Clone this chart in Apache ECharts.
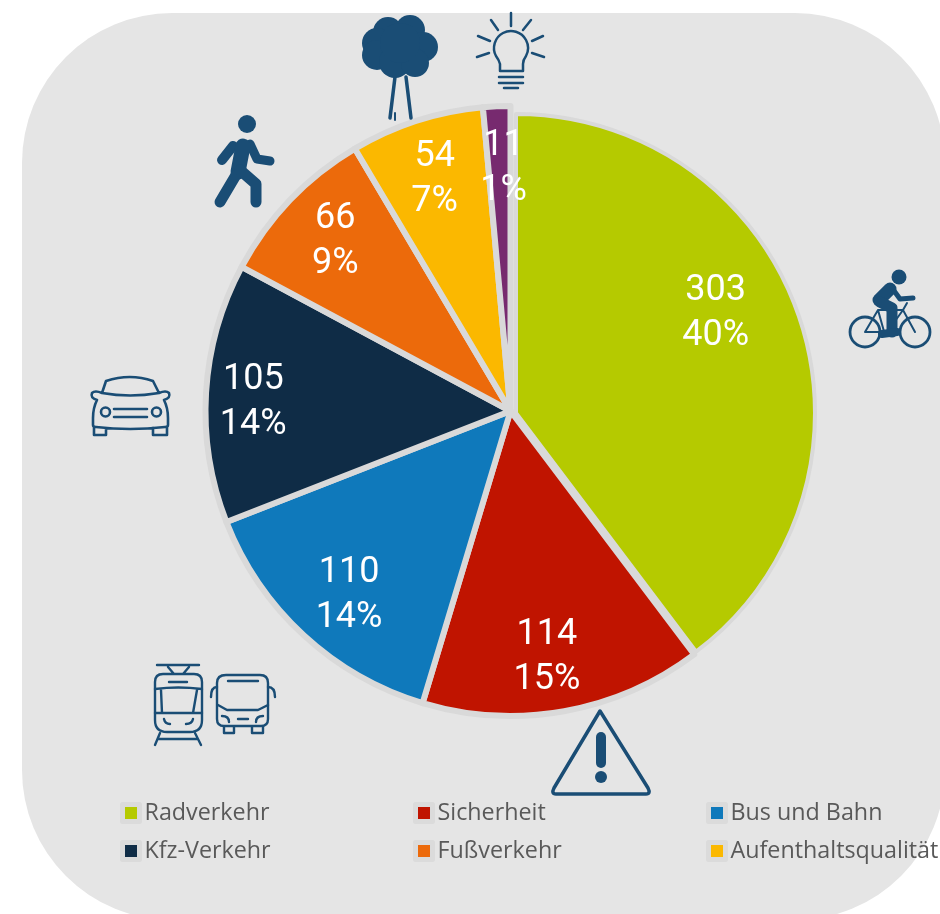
<!DOCTYPE html>
<html><head><meta charset="utf-8">
<style>html,body{margin:0;padding:0;background:#fff}#c{width:940px;height:914px}</style>
<script src="https://cdn.jsdelivr.net/npm/echarts@6/dist/echarts.min.js"></script>
</head><body><div id="c"></div>
<script>
const categories = ['Radverkehr','Sicherheit','Bus und Bahn','Kfz-Verkehr','Fußverkehr','Aufenthaltsqualität','Beleuchtung'];
const values = [303,114,110,105,66,54,11];
const colors = ['#b5ca00','#c01400','#0f79bb','#0f2c46','#ec6a0b','#fbb800','#772a6f'];
const labelOffsets = [[55,-51],[9,93],[-56,70],[-102,1],[-63,-62],[-28,-84],[0,-87]];
const legendColumns = [[categories[0],categories[3]],[categories[1],categories[4]],[categories[2],categories[5]]];
const legendLefts = [120,413,706];

const INK = '#1a4d75';
const strokes = [
 // walker
 [10,'M233 146L222 160'],[9,'M250 144L257 159L270 161'],[15,'M243 146L238 172'],[11,'M236 175L220 202'],[11,'M240 170L256 184L256 202'],
 // tree trunk
 [3.5,'M395 77L390 118'],[3.5,'M406 77L411 118'],[2,'M395 113L395 120'],
 // bulb
 [2.5,'M511 13L511 26M491 20L498 30M531 20L523 30M478 36L490 41M543 36L532 41M477 57L489 53M544 57L532 53'],
 [2.5,'M500 71L500 64Q499 60 496 56A17 17 0 1 1 526 56Q523 60 523 64L523 71Z'],
 [2.5,'M499 77L523 77M499 83L523 83M504 88L518 88'],
 // bike
 [2.8,'M880 332A15 15 0 1 1 850 332A15 15 0 1 1 880 332M930 332A15 15 0 1 1 900 332A15 15 0 1 1 930 332'],
 [2,'M865 332L878 310L903 310L915 332M878 310L885 335L903 310M865 332L885 332M903 310L907 303'],
 [13,'M879 300L890 289'],[5,'M892 288L900 299L913 298'],[11,'M880 302L892 308L892 332'],[8,'M882 334L897 332'],
 // car
 [2.6,'M102 393L106 381Q130 373 153 381L159 393Q130 398 102 393M97 400Q90 398 92 393Q95 390 102 393M159 393Q166 390 169 393Q171 398 164 400M97 400Q93 408 93 418L93 425Q93 427 96 427Q130 431 165 427Q168 427 168 425L168 418Q168 408 164 400M94 427L94 435L106 435L106 428M153 428L153 435L167 435L167 427M114 409L147 409M114 417L147 417'],
 [2.6,'M110 412A4.5 4.5 0 1 1 101 412A4.5 4.5 0 1 1 110 412M161 412A4.5 4.5 0 1 1 152 412A4.5 4.5 0 1 1 161 412'],
 // tram
 [2.4,'M157 665L199 665M168 667L174 674M189 667L183 674M163 674L194 674Q202 674 202 682L202 720Q202 732 190 732L167 732Q155 732 155 720L155 682Q155 674 163 674Z'],
 [2.4,'M169 682L187 682M155 689Q178 686 202 689M161 690L162 713M197 690L193 713M155 713L202 713M164 719Q165 724 170 724M193 719Q192 724 186 724M160 733L155 745M195 733L201 745M158 739L197 739'],
 // bus
 [2.4,'M226 675L260 675Q268 675 268 683L268 719Q268 726 261 726L224 726Q217 726 217 719L217 683Q217 675 226 675Z'],
 [2.4,'M218 705L227 710L258 710L268 705M217 687Q211 687 211 697M268 687Q275 687 275 697M222 716Q229 716 229 722M263 716Q256 716 256 722M238 719L248 719M224 727L224 733L234 733L234 727M252 727L252 733L263 733L263 727M228 681L258 681'],
 // warning
 [3.5,'M600 711L648 788Q651 794 646 794L556 794Q551 794 554 788Z'],
 [10,'M601 737L601 763']
];
const dots = [
 [247,124,9],[601,777,6],[899,277,7.5],
 [388,32,15],[410,30,15],[377,43,15],[423,47,15],[377,55,15],[395,62,16],[415,63,14],[400,43,20]
];
const FULL = 'M0 0M940 914';

function renderIcons(){
  const children = [];
  strokes.forEach(s=>children.push({type:'path',shape:{pathData:FULL+s[1],x:0,y:0,width:940,height:914,layout:'cover'},
    style:{fill:null,stroke:INK,lineWidth:s[0],lineCap:'round',lineJoin:'round'}}));
  dots.forEach(d=>children.push({type:'circle',shape:{cx:d[0],cy:d[1],r:d[2]},style:{fill:INK}}));
  return {type:'group',children};
}

const NONE = {color:'transparent',borderColor:'transparent',borderWidth:0};
const labelStyle = {position:'inside',formatter:'{c}\n{d}%',color:'#fff',fontFamily:'Roboto',fontWeight:400,fontSize:36,lineHeight:45};
const pieBase = {type:'pie',startAngle:90,clockwise:true,percentPrecision:0,emphasis:{disabled:true},labelLine:{show:false},silent:true};

const chart = echarts.init(document.getElementById('c'),null,{renderer:'canvas'});
chart.setOption({
  animation:false,
  graphic:[{type:'rect',z:-1,shape:{x:22,y:13,width:923,height:907,r:150},style:{fill:'#e5e5e5'},silent:true}],
  legend:legendColumns.map((col,i)=>({
    orient:'vertical',left:legendLefts[i],top:800,padding:0,itemWidth:17,itemHeight:17,itemGap:12,
    selectedMode:false,icon:'rect',data:col,
    itemStyle:{borderColor:'#dbdbdb',borderWidth:5},
    textStyle:{fontFamily:'Open Sans',fontSize:23.3,color:'#595959',height:26,lineHeight:26,padding:[0,0,0,0]}
  })),
  series:[
   // the first slice sits slightly apart from the others in the picture, with its own centre and radius
   Object.assign({},pieBase,{center:[516,413],radius:[0,299],
    itemStyle:{borderColor:'#d9d9d9',borderWidth:4},label:labelStyle,
    data:values.map((v,i)=>i===0
      ?{name:categories[i],value:v,itemStyle:{color:colors[i]},label:{offset:labelOffsets[i]}}
      :{name:'_'+i,value:v,itemStyle:NONE,label:{show:false}})}),
   Object.assign({},pieBase,{center:[510.5,411],radius:[0,305],
    itemStyle:{borderColor:'#d9d9d9',borderWidth:6},label:labelStyle,
    data:values.map((v,i)=>i===0
      ?{name:'_'+i,value:v,itemStyle:NONE,label:{show:false}}
      :{name:categories[i],value:v,itemStyle:{color:colors[i]},label:{offset:labelOffsets[i]}})}),
   {type:'custom',coordinateSystem:'none',silent:true,z:5,data:[0],renderItem:renderIcons}
  ]
});
</script></body></html>
